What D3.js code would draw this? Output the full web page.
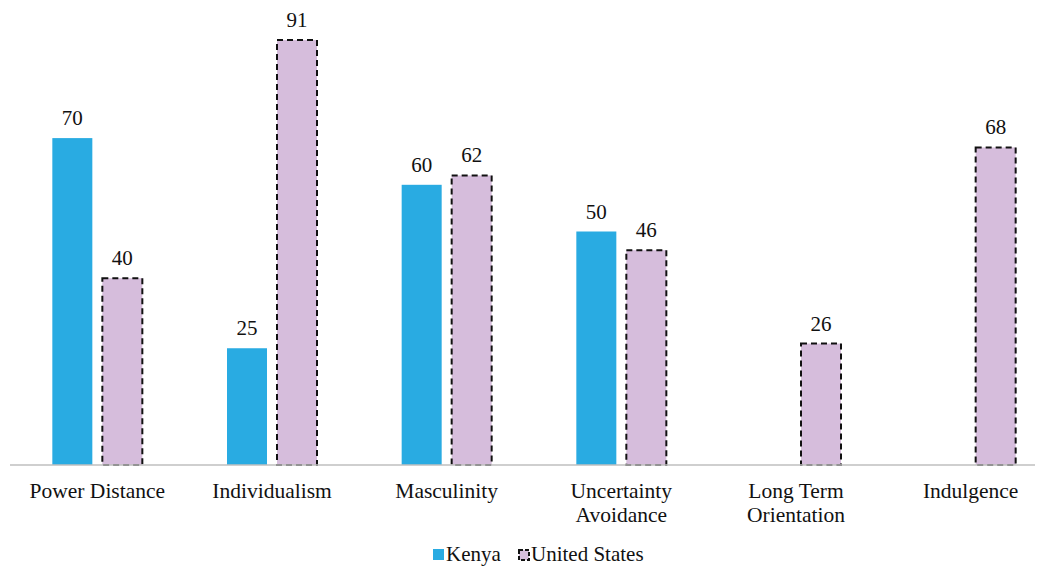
<!DOCTYPE html>
<html lang="en">
<head>
  <meta charset="UTF-8" />
  <title>Kenya vs United States</title>
  <script src="https://d3js.org/d3.v7.min.js"></script>
  <style>
    body {margin: 0; background: #fff;}
    text {font-family: 'Liberation Serif', 'Times New Roman', Times, serif !important; fill: #111;}
  </style>
</head>
<body>
<script>
  const categories = ["Power Distance", "Individualism", "Masculinity", "Uncertainty Avoidance", "Long Term Orientation", "Indulgence"];
  const categoryLines = [["Power Distance"], ["Individualism"], ["Masculinity"], ["Uncertainty", "Avoidance"], ["Long Term", "Orientation"], ["Indulgence"]];
  const seriesNames = ["Kenya", "United States"];
  const kenya = [70, 25, 60, 50, null, null];
  const unitedStates = [40, 91, 62, 46, 26, 68];

  const width = 1044, height = 572;
  const baseY = 465;

  const svg = d3.select("body").append("svg")
                .attr("width", width)
                .attr("height", height);

  //****SCALES****
  const xScale = d3.scaleBand()
                   .domain(categories)
                   .range([10, 1058])
                   .paddingInner(0).paddingOuter(0);

  const yScale = d3.scaleLinear()
                   .domain([0, 100])
                   .range([baseY, -2]);

  const barW = 40, gap = 10;
  const colors = {"Kenya": "#29abe2", "United States": "#d6bddc"};

  const rows = [];
  categories.forEach((c, i) => {
    if (kenya[i] != null) rows.push({cat: c, series: "Kenya", value: kenya[i], off: -gap / 2 - barW});
    if (unitedStates[i] != null) rows.push({cat: c, series: "United States", value: unitedStates[i], off: gap / 2});
  });

  const cx = (c) => xScale(c) + xScale.bandwidth() / 2;

  //****BARS****
  svg.selectAll(".bar")
     .data(rows)
     .join("rect")
     .attr("class", "bar")
     .attr("x", (d) => cx(d.cat) + d.off)
     .attr("y", (d) => yScale(d.value))
     .attr("width", barW)
     .attr("height", (d) => baseY - yScale(d.value))
     .attr("fill", (d) => colors[d.series])
     .attr("stroke", (d) => d.series === "United States" ? "#111" : "none")
     .attr("stroke-width", 2)
     .attr("stroke-dasharray", "6,4");

  //****VALUE LABELS****
  svg.selectAll(".val")
     .data(rows)
     .join("text")
     .attr("class", "val")
     .attr("x", (d) => cx(d.cat) + d.off + barW / 2)
     .attr("y", (d) => yScale(d.value) - 13)
     .attr("text-anchor", "middle")
     .attr("font-size", "21px")
     .text((d) => d.value);

  //****AXIS****
  svg.append("line")
     .attr("x1", 10).attr("x2", 1035)
     .attr("y1", baseY).attr("y2", baseY)
     .attr("stroke", "#bfbfbf").attr("stroke-width", 1.5);

  const labels = svg.selectAll(".cat")
     .data(categories)
     .join("text")
     .attr("class", "cat")
     .attr("text-anchor", "middle")
     .attr("font-size", "21.5px");
  labels.each(function (d, i) {
    const t = d3.select(this);
    categoryLines[i].forEach((ln, k) => {
      t.append("tspan").attr("x", cx(d)).attr("y", 498 + k * 24).text(ln);
    });
  });

  //****LEGEND****
  const legend = svg.append("g").attr("transform", "translate(433, 549)");
  legend.append("rect").attr("x", 0).attr("y", 0).attr("width", 11).attr("height", 11).attr("fill", colors["Kenya"]);
  legend.append("text").attr("x", 13).attr("y", 12).attr("font-size", "21px").text(seriesNames[0]);
  legend.append("rect").attr("x", 86).attr("y", 1).attr("width", 10).attr("height", 10)
        .attr("fill", colors["United States"]).attr("stroke", "#111").attr("stroke-width", 2).attr("stroke-dasharray", "4,2");
  legend.append("text").attr("x", 98).attr("y", 12).attr("font-size", "21px").text(seriesNames[1]);
</script>
</body>
</html>
